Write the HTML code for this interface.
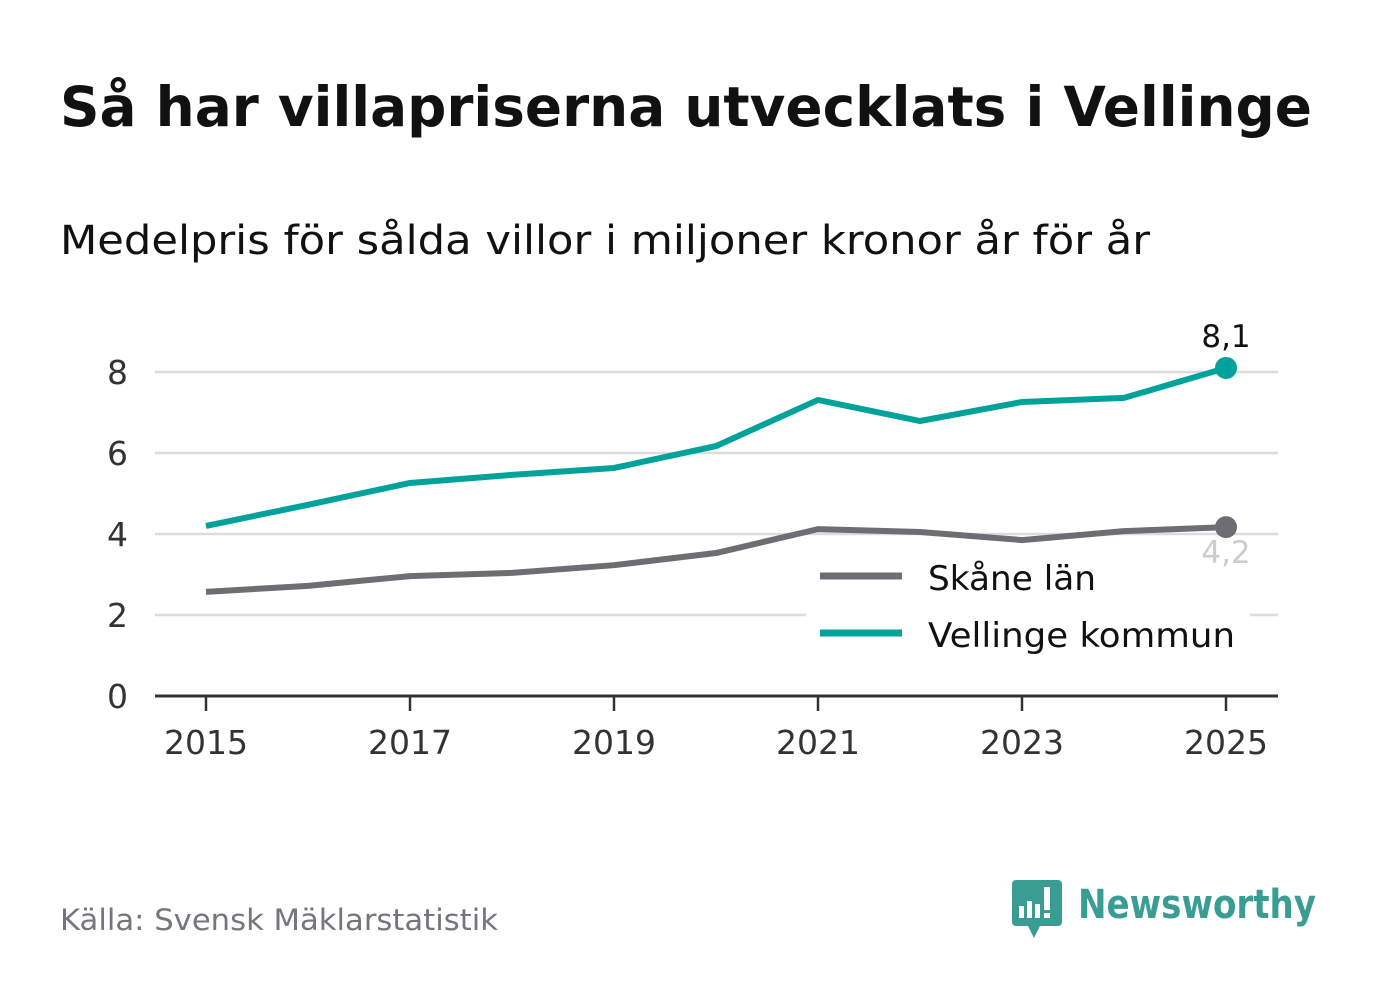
<!DOCTYPE html>
<html><head><meta charset="utf-8"><style>
body{margin:0;background:#fff;width:1382px;height:999px;overflow:hidden;font-family:"DejaVu Sans","Liberation Sans",sans-serif}
</style></head><body>
<svg id="svg" width="1382" height="999" xmlns="http://www.w3.org/2000/svg">
<text x="60" y="126" font-size="55" font-weight="bold" fill="#111" textLength="1252" lengthAdjust="spacingAndGlyphs">Så har villapriserna utvecklats i Vellinge</text>
<text x="60" y="254" font-size="40" fill="#111" textLength="1090" lengthAdjust="spacingAndGlyphs">Medelpris för sålda villor i miljoner kronor år för år</text>
<g id="grid"></g><g id="lines"></g>
<g>
<rect x="806" y="556" width="444" height="106" fill="#fff"/>
<line x1="820" y1="576" x2="902" y2="576" stroke="#6e6d73" stroke-width="7"/>
<text x="928" y="590" font-size="34" fill="#111" textLength="168" lengthAdjust="spacingAndGlyphs">Skåne län</text>
<line x1="820" y1="633" x2="902" y2="633" stroke="#00a29a" stroke-width="7"/>
<text x="928" y="647" font-size="34" fill="#111" textLength="307" lengthAdjust="spacingAndGlyphs">Vellinge kommun</text>
</g>
<g id="labels"></g>
<text x="60" y="930" font-size="29" fill="#76757b" textLength="438" lengthAdjust="spacingAndGlyphs">Källa: Svensk Mäklarstatistik</text>
<g>
<path d="M1016 880 h42 a4 4 0 0 1 4 4 v38 a4 4 0 0 1 -4 4 h-18 l-6 12 l-6 -12 h-12 a4 4 0 0 1 -4 -4 v-38 a4 4 0 0 1 4 -4z" fill="#3a9d94"/>
<rect x="1019" y="906" width="5" height="12" fill="#fff"/><rect x="1027" y="901" width="5" height="17" fill="#fff"/><rect x="1035" y="904" width="5" height="14" fill="#fff"/><rect x="1044" y="887" width="6" height="23" fill="#fff"/><rect x="1044" y="913" width="6" height="5" fill="#fff"/>
<text x="1078" y="918" font-size="40" font-weight="bold" fill="#3a9d94" textLength="238" lengthAdjust="spacingAndGlyphs">Newsworthy</text>
</g>
</svg>
<script>
const years=[2015,2016,2017,2018,2019,2020,2021,2022,2023,2024,2025];
const vellinge=[4.2,4.72,5.26,5.46,5.63,6.17,7.31,6.79,7.26,7.36,8.1];
const skane=[2.57,2.72,2.96,3.04,3.23,3.53,4.12,4.05,3.85,4.07,4.17];
const yTicks=[0,2,4,6,8];
const xTicks=[2015,2017,2019,2021,2023,2025];
const NS="http://www.w3.org/2000/svg";
const xS=y=>206+(y-2015)*102;
const yS=v=>696-v*40.5;
function mk(t,a,p){const e=document.createElementNS(NS,t);for(const k in a)e.setAttribute(k,a[k]);p.appendChild(e);return e;}
const g=document.getElementById('grid'),L=document.getElementById('lines'),LB=document.getElementById('labels');
yTicks.forEach(t=>{
 if(t>0){const l=mk('line',{x1:155,x2:1278,y1:yS(t),y2:yS(t),stroke:'#dcdcdc','stroke-width':2.5},g);
 
 }
 const tx=mk('text',{x:128,y:yS(t)+12,'font-size':33,fill:'#333','text-anchor':'end'},g);tx.textContent=t;
 
 
});
const ax=mk('line',{x1:155,x2:1278,y1:696,y2:696,stroke:'#333','stroke-width':3},g);


xTicks.forEach(t=>{
 mk('line',{x1:xS(t),x2:xS(t),y1:696,y2:711,stroke:'#333','stroke-width':2.5},g);
 const tx=mk('text',{x:xS(t),y:754,'font-size':33,fill:'#333','text-anchor':'middle'},g);tx.textContent=t;
 
 
});
function series(vals,col,name){
 const p=mk('polyline',{points:vals.map((v,i)=>xS(years[i])+','+yS(v)).join(' '),fill:'none',stroke:col,'stroke-width':6,'stroke-linejoin':'round'},L);
 
 
 const n=vals.length-1;
 const c=mk('circle',{cx:xS(years[n]),cy:yS(vals[n]),r:11,fill:col},L);
 
 
}
series(skane,'#6e6d73','skane');
series(vellinge,'#00a29a','vellinge');
const n=years.length-1;
const t2=mk('text',{x:xS(years[n]),y:yS(skane[n])+36,'font-size':31,fill:'#ccc','text-anchor':'middle'},LB);t2.textContent=skane[n].toFixed(1).replace('.',',');


const t1=mk('text',{x:xS(years[n]),y:yS(vellinge[n])-21,'font-size':31,fill:'#111','text-anchor':'middle'},LB);t1.textContent=vellinge[n].toFixed(1).replace('.',',');


</script>
</body></html>
